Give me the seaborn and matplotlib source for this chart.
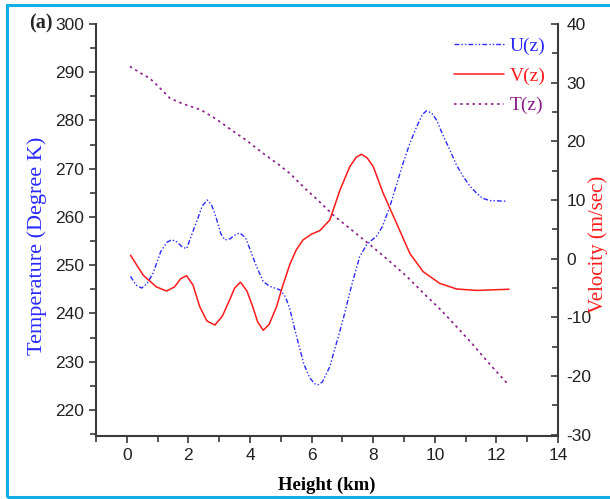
import numpy as np
import pandas as pd
import matplotlib
matplotlib.use("Agg")
import matplotlib.pyplot as plt
import seaborn as sns
from matplotlib.patches import Rectangle
from matplotlib.ticker import MultipleLocator

# Temperature profile T(z)
height_T = [0.1, 0.4, 0.75, 1.0, 1.4, 1.8, 2.4, 2.9, 3.4, 3.9, 4.4, 4.9, 5.3, 5.8,
            6.2, 6.7, 7.3, 7.9, 8.5, 9.1, 9.6, 10.2, 10.7, 11.2, 11.85, 12.35]
temp_T = [291.2, 290.0, 288.7, 287.2, 284.6, 283.5, 282.2, 280.3, 278.0, 275.8, 273.3,
          271.0, 269.0, 265.8, 263.5, 260.4, 257.3, 254.2, 251.0, 247.6, 244.4, 240.7,
          237.3, 233.8, 229.0, 225.5]

# Zonal wind U(z)
height_U = [0.12, 0.3, 0.48, 0.65, 0.85, 1.1, 1.3, 1.45, 1.6, 1.8, 1.94, 2.1, 2.3, 2.45,
            2.61, 2.75, 2.9, 3.05, 3.18, 3.35, 3.5, 3.67, 3.85, 4.0, 4.21, 4.43, 4.64,
            4.97, 5.15, 5.29, 5.45, 5.6, 5.75, 5.94, 6.1, 6.2, 6.35, 6.59, 6.8, 7.02,
            7.3, 7.56, 7.8, 8.1, 8.3, 8.54, 8.75, 8.97, 9.2, 9.41, 9.6, 9.73, 9.9,
            10.06, 10.25, 10.49, 10.7, 10.92, 11.15, 11.35, 11.55, 11.79, 12.33]
vel_U = [-3.0, -4.5, -5.0, -4.3, -2.5, 1.2, 2.8, 3.2, 3.0, 2.0, 1.7, 4.0, 6.8, 9.0,
         10.0, 9.2, 7.0, 4.3, 3.2, 3.4, 4.0, 4.4, 3.6, 1.6, -1.3, -3.9, -4.7,
         -5.3, -6.5, -8.5, -12.0, -15.0, -18.0, -20.3, -21.3, -21.5, -21.0, -18.4, -14.5, -10.4,
         -4.5, 0.35, 2.5, 3.8, 5.5, 8.9, 12.5, 16.3, 19.8, 22.5, 24.6, 25.2, 24.8,
         23.6, 21.2, 18.5, 16.0, 14.0, 12.3, 11.2, 10.3, 9.9, 9.8]

# Meridional wind V(z)
height_V = [0.12, 0.53, 0.96, 1.29, 1.55, 1.75, 1.94, 2.15, 2.37, 2.6, 2.86, 3.1, 3.34,
            3.5, 3.69, 3.9, 4.09, 4.25, 4.43, 4.62, 4.86, 5.05, 5.29, 5.5, 5.72, 6.0,
            6.27, 6.59, 6.92, 7.24, 7.45, 7.62, 7.8, 8.0, 8.32, 8.76, 9.19, 9.62,
            10.16, 10.7, 11.35, 11.89, 12.41]
vel_V = [0.6, -2.8, -4.8, -5.5, -4.8, -3.4, -2.9, -4.5, -8.2, -10.6, -11.3, -9.8, -7.0,
         -5.0, -4.0, -5.5, -8.2, -10.8, -12.2, -11.2, -8.2, -4.8, -1.0, 1.5, 3.2, 4.2,
         4.8, 6.6, 11.7, 15.7, 17.3, 17.8, 17.2, 15.7, 11.2, 6.0, 0.9, -2.2,
         -4.2, -5.15, -5.4, -5.3, -5.2]

sns.set_theme(style="ticks")
plt.rcParams["font.family"] = ["Liberation Sans", "DejaVu Sans"]
plt.rcParams["axes.unicode_minus"] = False

serif = "Liberation Serif"
spine_col = "#3a3a3a"
blue = "#2a2aff"
red = "#ff1a1a"
purple = "#8b1a8b"

fig = plt.figure(figsize=(6.10, 4.99), dpi=100)
ax = fig.add_axes([0.1574, 0.1263, 0.7574, 0.8257])
ax2 = ax.twinx()

sns.lineplot(x=height_T, y=temp_T, ax=ax, color=purple, lw=1.2,
             linestyle=(0, (1.5, 2.2)), label="T(z)", legend=False)
sns.lineplot(x=height_U, y=vel_U, ax=ax2, color=blue, lw=1.0,
             linestyle=(0, (3.5, 1.5, 1, 1.5, 1, 1.5)), label="U(z)", legend=False)
sns.lineplot(x=height_V, y=vel_V, ax=ax2, color=red, lw=1.1,
             linestyle="-", label="V(z)", legend=False)

ax.set_xlim(-1, 14)
ax.set_ylim(214.6, 300)
ax2.set_ylim(-30.2, 40)

ax.xaxis.set_major_locator(MultipleLocator(2))
ax.xaxis.set_minor_locator(MultipleLocator(1))
ax.yaxis.set_major_locator(MultipleLocator(10))
ax.yaxis.set_minor_locator(MultipleLocator(5))
ax2.yaxis.set_major_locator(MultipleLocator(10))
ax2.yaxis.set_minor_locator(MultipleLocator(5))

for a in (ax, ax2):
    a.spines["top"].set_visible(False)
    for s in a.spines.values():
        s.set_color(spine_col)
        s.set_linewidth(1.5)
ax.spines["right"].set_visible(False)
ax2.spines["left"].set_visible(False)
ax2.spines["bottom"].set_visible(False)

ax.tick_params(axis="both", which="major", direction="out", length=5, width=1.2,
               color=spine_col, labelsize=12.5, labelcolor="#222222")
ax.tick_params(axis="both", which="minor", direction="out", length=4, width=1.2,
               color=spine_col)
ax2.tick_params(axis="y", which="major", direction="in", length=5, width=1.2,
                color=spine_col, labelsize=12.5, labelcolor="#222222", pad=6)
ax2.tick_params(axis="y", which="minor", direction="in", length=4, width=1.2,
                color=spine_col)

ax.set_xlabel("Height (km)", family=serif, fontsize=13.5, fontweight="bold",
              color="black", labelpad=10)
ax.set_ylabel("Temperature (Degree K)", family=serif, fontsize=16, color=blue)
ax.yaxis.set_label_coords(-0.106, 0.461)
ax2.set_ylabel("Velocity (m/sec)", family=serif, fontsize=15, color=red)
ax2.yaxis.set_label_coords(1.066, 0.466)

fig.text(0.048, 0.952, "(a)", family=serif, fontsize=14.5, fontweight="bold",
         ha="left", va="center")

h1, l1 = ax.get_legend_handles_labels()
h2, l2 = ax2.get_legend_handles_labels()
handles = h2 + h1
labels = l2 + l1
leg = fig.legend(handles, labels, loc="upper left", bbox_to_anchor=(0.715, 0.961),
                 frameon=False, prop={"family": serif, "size": 14},
                 handlelength=2.6, handletextpad=0.3, labelspacing=0.63,
                 labelcolor=[blue, red, purple])

# light-blue frame round the figure (right side runs off the image)
fig.patches.append(Rectangle((0.011, 0.004), 1.2, 0.986, transform=fig.transFigure,
                             fill=False, edgecolor="#12aee8", lw=2.2))

fig.savefig("out.png", dpi=100)
